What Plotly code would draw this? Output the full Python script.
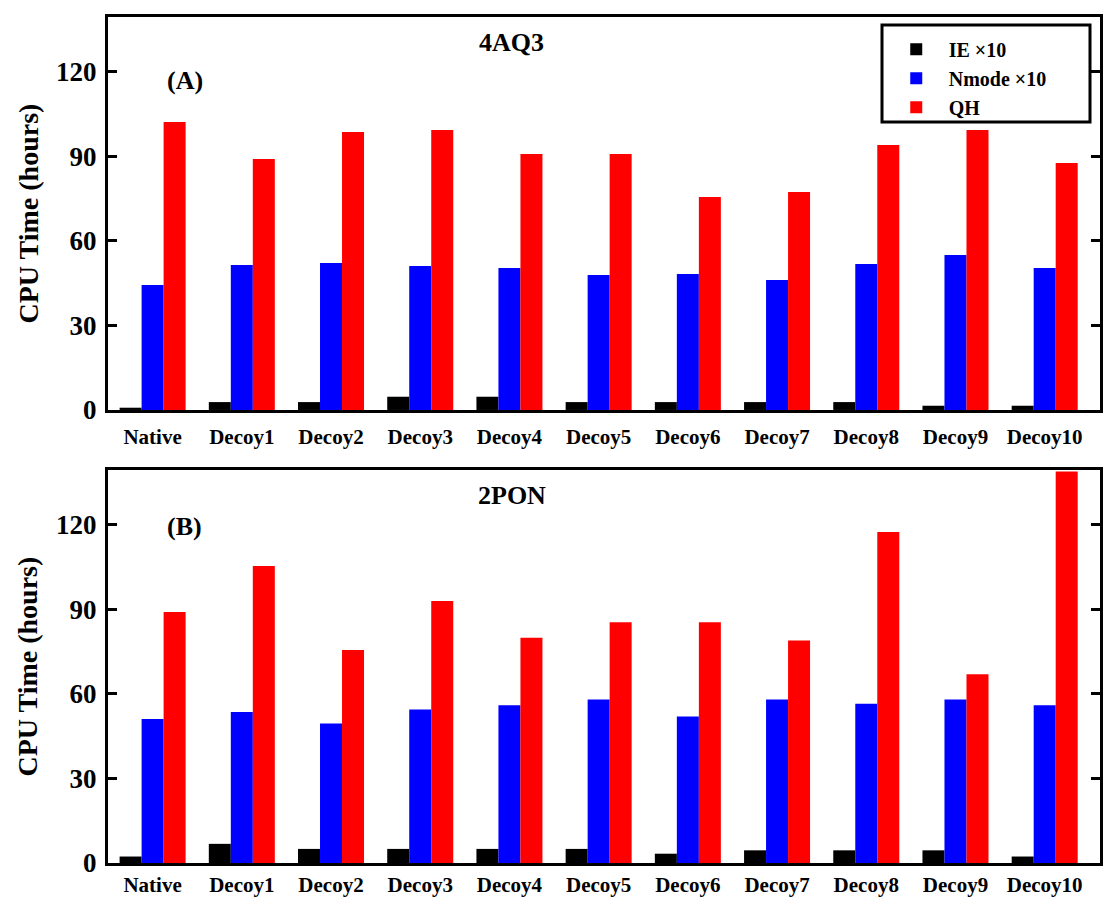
import plotly.graph_objects as go
from plotly.subplots import make_subplots

categories = ["Native", "Decoy1", "Decoy2", "Decoy3", "Decoy4", "Decoy5",
              "Decoy6", "Decoy7", "Decoy8", "Decoy9", "Decoy10"]

# Panel A: 4AQ3
a_ie = [0.8, 2.8, 2.8, 4.7, 4.7, 2.8, 2.8, 2.8, 2.8, 1.5, 1.5]
a_nmode = [44.4, 51.5, 52.2, 51.1, 50.4, 47.9, 48.3, 46.1, 51.8, 55.0, 50.4]
a_qh = [102.2, 89.1, 98.7, 99.4, 90.9, 90.9, 75.6, 77.4, 94.1, 99.4, 87.7]

# Panel B: 2PON
b_ie = [2.3, 6.8, 5.0, 5.0, 5.0, 5.0, 3.3, 4.5, 4.5, 4.5, 2.3]
b_nmode = [51.1, 53.6, 49.5, 54.5, 56.0, 58.0, 52.0, 58.0, 56.5, 58.0, 56.0]
b_qh = [89.1, 105.4, 75.6, 93.0, 80.0, 85.5, 85.5, 79.0, 117.5, 67.0, 139.0]

series_names = ["IE \u00d710", "Nmode \u00d710", "QH"]
series_colors = ["#000000", "#0000ff", "#ff0000"]
y_ticks = [0, 30, 60, 90, 120]
y_title = "CPU Time (hours)"

FONT = "Times New Roman, Liberation Serif, serif"

fig = make_subplots(rows=2, cols=1)

for row, data in [(1, [a_ie, a_nmode, a_qh]), (2, [b_ie, b_nmode, b_qh])]:
    for name, color, vals in zip(series_names, series_colors, data):
        fig.add_trace(go.Bar(x=categories, y=vals, name=name,
                             marker=dict(color=color, line=dict(width=0)),
                             showlegend=(row == 1)), row=row, col=1)

axis_common = dict(showline=True, linecolor="black", linewidth=3, mirror="ticks",
                   showgrid=False, zeroline=False, automargin=False)

for r, standoff in ((1, 6), (2, 1)):
    fig.update_xaxes(axis_common, row=r, col=1, ticks="",
                     range=[-0.5, 10.62], ticklabelstandoff=standoff,
                     tickfont=dict(family=FONT, size=21, color="black", weight="bold"))
    fig.update_yaxes(axis_common, row=r, col=1, range=[0, 139.5],
                     tickvals=y_ticks, ticks="inside", ticklen=9, tickwidth=3,
                     tickcolor="black", ticklabelstandoff=3,
                     tickfont=dict(family=FONT, size=27, color="black", weight="bold"))

fig.update_layout(
    xaxis=dict(domain=[0, 1]), xaxis2=dict(domain=[0, 1]),
    yaxis=dict(domain=[0.5355, 1.0]), yaxis2=dict(domain=[0.0, 0.4645]),
)

fig.update_layout(
    width=1116, height=897,
    margin=dict(l=108, r=16, t=17, b=34, autoexpand=False),
    paper_bgcolor="white", plot_bgcolor="white",
    barmode="group", bargap=0.26, bargroupgap=0,
    showlegend=True,
    legend=dict(x=0.782, y=0.985, xanchor="left", yanchor="top",
                borderwidth=0, bgcolor="rgba(0,0,0,0)",
                font=dict(family=FONT, size=20, color="black", weight="bold"),
                tracegroupgap=0, itemwidth=55),
)

# legend frame (paper coordinates)
fig.add_shape(type="rect", xref="paper", yref="paper",
              x0=(882 - 108) / 992, x1=(1090 - 108) / 992,
              y0=(863 - 122) / 846, y1=(863 - 25) / 846,
              line=dict(color="black", width=3), fillcolor="white", layer="above")

# y-axis titles
for yd in (0.5355, 0.0):
    fig.add_annotation(text=y_title, textangle=-90, xref="paper", yref="paper",
                       x=(28 - 108) / 992, y=yd + 0.4645 / 2, showarrow=False,
                       xanchor="center", yanchor="middle",
                       font=dict(family=FONT, size=28, color="black", weight="bold"))

# annotation positions in data units (category index, hours)
ann = [("4AQ3", 4.02, 130.3, "x", "y"),
       ("(A)", 0.36, 117.0, "x", "y"),
       ("2PON", 4.03, 130.6, "x2", "y2"),
       ("(B)", 0.36, 119.3, "x2", "y2")]
for text, x, y, xr, yr in ann:
    fig.add_annotation(text=text, x=x, y=y, xref=xr, yref=yr, showarrow=False,
                       xanchor="center", yanchor="middle",
                       font=dict(family=FONT, size=26, color="black", weight="bold"))

fig.write_html("out.html")
